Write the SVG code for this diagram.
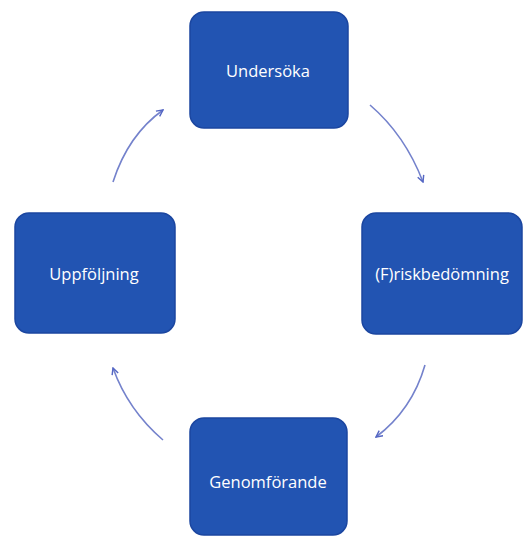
<svg xmlns="http://www.w3.org/2000/svg" width="526" height="538" viewBox="0 0 526 538">
<defs>
<style>
.box{fill:#2254b2;stroke:#1b46a0;stroke-width:1.5}
.lbl{fill:#ffffff;font-family:"Open Sans","Liberation Sans",sans-serif;font-size:16.5px;text-anchor:middle;dominant-baseline:central}
.arc{fill:none;stroke:#7482cc;stroke-width:1.6;marker-end:url(#ah)}
</style>
<marker id="ah" viewBox="0 0 10 10" refX="9" refY="5" markerWidth="8" markerHeight="8" orient="auto" markerUnits="userSpaceOnUse">
<path d="M1,1 L9,5 L1,9" fill="none" stroke="#5567c4" stroke-width="1.8"/>
</marker>
</defs>
<rect width="526" height="538" fill="#ffffff"/>
<g id="connectors">
<path class="arc" d="M370,105 Q405,135 423,182"/>
<path class="arc" d="M425,365 Q412,410 376,437"/>
<path class="arc" d="M163,440 Q128,410 113,368"/>
<path class="arc" d="M113,182 Q128,135 163,110"/>
</g>
<g id="undersoka">
<rect class="box" x="190" y="12" width="158" height="116" rx="14"/>
<text class="lbl" x="268" y="70">Undersöka</text>
</g>
<g id="riskbedomning">
<rect class="box" x="362" y="213" width="160" height="121" rx="14"/>
<text class="lbl" x="442" y="273">(F)riskbedömning</text>
</g>
<g id="uppfoljning">
<rect class="box" x="15" y="213" width="160" height="120" rx="14"/>
<text class="lbl" x="94" y="273">Uppföljning</text>
</g>
<g id="genomforande">
<rect class="box" x="190" y="418" width="157" height="117" rx="14"/>
<text class="lbl" x="268" y="481">Genomförande</text>
</g>
</svg>
